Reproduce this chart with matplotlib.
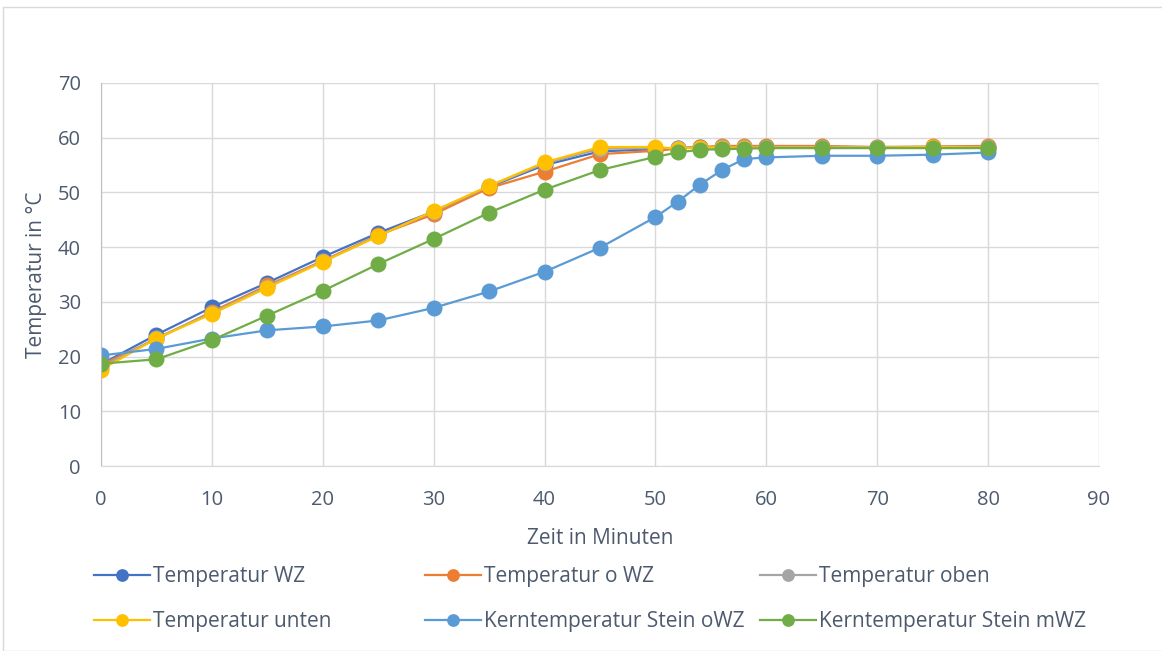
import matplotlib.pyplot as plt
from matplotlib.patches import Rectangle

# Zeit in Minuten
zeit = [0, 5, 10, 15, 20, 25, 30, 35, 40, 45, 50, 52, 54, 56, 58, 60, 65, 70, 75, 80]

temp_wz = [18.6, 24.0, 29.0, 33.5, 38.2, 42.6, 46.5, 51.0, 55.0, 57.5, 57.9, 58.1, 58.3, 58.3, 58.3, 58.3, 58.3, 58.2, 58.2, 58.2]
temp_owz = [18.5, 23.2, 28.2, 33.0, 37.5, 42.2, 46.0, 50.8, 53.8, 57.0, 57.6, 58.0, 58.3, 58.5, 58.5, 58.5, 58.5, 58.3, 58.4, 58.5]
temp_oben = [18.0, 23.4, 28.0, 32.8, 37.4, 42.1, 46.5, 51.1, 55.3, 58.0, 58.1, 58.1, 58.2, 58.3, 58.3, 58.3, 58.3, 58.3, 58.3, 58.3]
temp_unten = [17.6, 23.3, 27.8, 32.6, 37.3, 42.0, 46.6, 51.2, 55.5, 58.3, 58.3, 58.0, 58.2, 58.2, 58.2, 58.2, 58.2, 58.2, 58.3, 58.2]
kern_owz = [20.2, 21.4, 23.3, 24.8, 25.5, 26.6, 28.9, 31.9, 35.5, 39.9, 45.5, 48.3, 51.4, 54.1, 56.1, 56.4, 56.7, 56.7, 56.9, 57.3]
kern_mwz = [18.7, 19.5, 23.0, 27.5, 32.0, 36.9, 41.5, 46.3, 50.5, 54.1, 56.5, 57.3, 57.8, 57.9, 58.0, 58.1, 58.1, 58.1, 58.1, 58.1]

namen = ['Temperatur WZ', 'Temperatur o WZ', 'Temperatur oben',
         'Temperatur unten', 'Kerntemperatur Stein oWZ', 'Kerntemperatur Stein mWZ']
farben = ['#4472C4', '#ED7D31', '#A5A5A5', '#FFC000', '#5B9BD5', '#70AD47']
reihen = [temp_wz, temp_owz, temp_oben, temp_unten, kern_owz, kern_mwz]

plt.rcParams['font.family'] = ['Open Sans', 'DejaVu Sans']
textfarbe = '#4D5A6E'

W, H = 1162, 651
fig = plt.figure(figsize=(W / 100, H / 100), dpi=100)
# grey frame around the chart area, like the Excel chart border
fig.patches.append(Rectangle((3 / W, 0), 1, 1 - 7 / H, transform=fig.transFigure,
                             fill=False, edgecolor='#D9D9D9', linewidth=1))

ax = fig.add_axes([101 / W, 1 - 466 / H, (1099 - 101) / W, (466 - 83) / H])

handles = []
for y, name, c in zip(reihen, namen, farben):
    h, = ax.plot(zeit, y, color=c, lw=1.6, marker='o', markersize=11.5,
                 markeredgewidth=0, label=name)
    handles.append(h)

ax.set_xlim(0, 90)
ax.set_ylim(0, 70)
ax.set_xticks(range(0, 91, 10))
ax.set_yticks(range(0, 71, 10))
ax.grid(True, color='#D9D9D9', lw=1)
ax.set_axisbelow(True)
for s in ['top', 'right']:
    ax.spines[s].set_visible(False)
ax.spines['left'].set_color('#BFBFBF')
ax.spines['bottom'].set_color('#D9D9D9')
ax.tick_params(length=0, labelsize=14.5, colors=textfarbe)
ax.tick_params(axis='x', pad=17)
ax.tick_params(axis='y', pad=14.5)
ax.set_xlabel('Zeit in Minuten', fontsize=15, color=textfarbe, labelpad=13)
ax.set_ylabel('Temperatur in °C', fontsize=15, color=textfarbe, labelpad=8)

# legend: three equal columns, two rows
spalten_x = [94, 425, 760]
for i, x0 in enumerate(spalten_x):
    leg = fig.legend([handles[i], handles[i + 3]], [namen[i], namen[i + 3]],
                     loc='upper left', bbox_to_anchor=(x0 / W, 1 - 566 / H),
                     frameon=False, fontsize=15, handlelength=2.7,
                     handletextpad=0.15, labelspacing=1.15, borderpad=0,
                     borderaxespad=0, markerscale=0.8)
    for t in leg.get_texts():
        t.set_color(textfarbe)

fig.savefig('out.png', dpi=100)
